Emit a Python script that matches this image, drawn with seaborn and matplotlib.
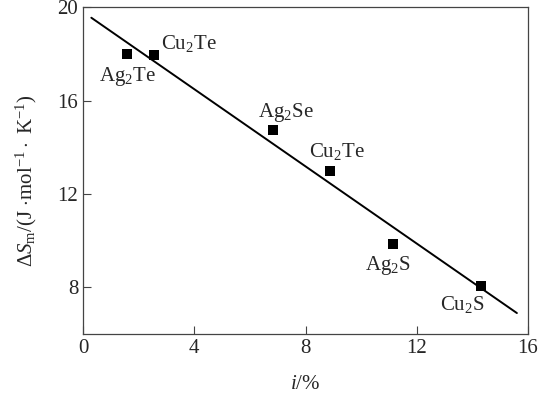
import pandas as pd
import matplotlib
matplotlib.use("Agg")
import matplotlib.pyplot as plt
import seaborn as sns

# values
compounds = ['Ag$_2$Te', 'Cu$_2$Te', 'Ag$_2$Se', 'Cu$_2$Te', 'Ag$_2$S', 'Cu$_2$S']
ionicity = [1.58, 2.55, 6.83, 8.88, 11.15, 14.32]
entropy = [18.0, 17.96, 14.73, 13.0, 9.87, 8.06]

# straight fit line (end points)
fit_x = [0.3, 15.6]
fit_y = [19.56, 6.9]

x_ticks = [0, 4, 8, 12, 16]
y_ticks = [8, 12, 16, 20]

df = pd.DataFrame({'i': ionicity, 'dS': entropy, 'name': compounds})
fit = pd.DataFrame({'i': fit_x, 'dS': fit_y})

sns.set_style("ticks")
plt.rcParams['font.family'] = ['Liberation Serif', 'DejaVu Serif']
plt.rcParams['mathtext.fontset'] = 'custom'
plt.rcParams['mathtext.rm'] = 'Liberation Serif'
plt.rcParams['mathtext.it'] = 'Liberation Serif:italic'
plt.rcParams['mathtext.bf'] = 'Liberation Serif:bold'

fig = plt.figure(figsize=(5.41, 3.93), dpi=100)
ax = fig.add_axes([0.1534, 0.150, 0.8226, 0.831])

sns.lineplot(x='i', y='dS', data=fit, ax=ax, color='black', linewidth=1.4)
sns.scatterplot(x='i', y='dS', data=df, ax=ax, marker='s', color='black',
                s=45, edgecolor='black', linewidth=0, zorder=3)

# label offsets in points
offsets = [(0.7, -16), (25, 8.6), (9.4, 13), (5, 13.7), (-3.6, -15.8), (-13.7, -13)]
for (xv, yv, name), off in zip(zip(ionicity, entropy, compounds), offsets):
    ax.annotate(name, (xv, yv), xytext=off, textcoords='offset points',
                ha='center', va='center', fontsize=15)

ax.set_xlim(0, 16)
ax.set_ylim(6, 20)
ax.set_xticks(x_ticks)
ax.set_yticks(y_ticks)
ax.tick_params(direction='in', length=6, width=0.8, labelsize=15, color='#444444')
for sp in ax.spines.values():
    sp.set_color('#444444')
    sp.set_linewidth(0.9)

ax.set_xlabel('$i$/%', fontsize=15, labelpad=12)
ax.set_ylabel(r'$\Delta S_{\rm m}$/(J $\cdot$mol$^{-1}\cdot$ K$^{-1}$)', fontsize=15, labelpad=13)
ax.yaxis.label.set_y(0.47)

fig.savefig('out.png', dpi=100)
